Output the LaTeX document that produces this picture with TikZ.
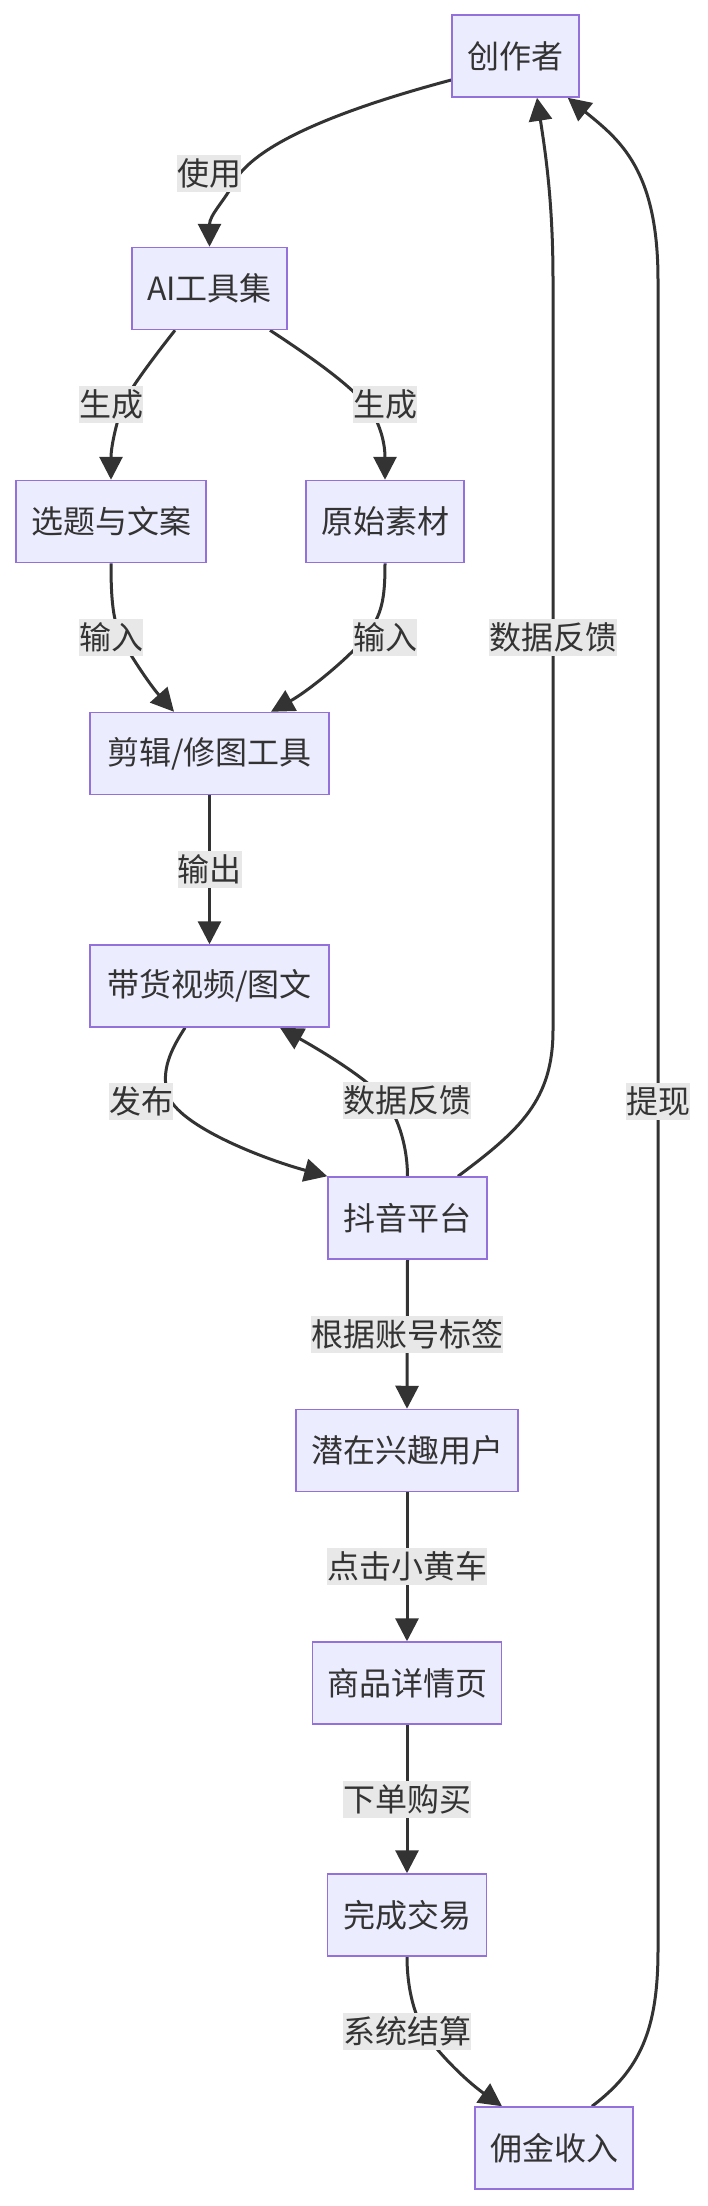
\documentclass[tikz,border=0pt]{standalone}
\usepackage{fontspec}
\newfontfamily\cjk{Noto Sans CJK SC}
\usetikzlibrary{arrows.meta}
\pgfdeclarelayer{back}
\pgfdeclarelayer{bg}
\pgfsetlayers{back,bg,main}
\definecolor{nodefill}{HTML}{ECECFF}
\definecolor{nodeline}{HTML}{9370DB}
\definecolor{ink}{HTML}{333333}
\definecolor{lblbg}{HTML}{E8E8E8}
\begin{document}
\begin{tikzpicture}[x=1pt,y=1pt,
  box/.style={draw=nodeline, line width=1.5pt, fill=nodefill, text=ink,
    minimum height=82pt, inner xsep=0pt, inner ysep=0pt,
    font=\cjk\fontsize{32}{38}\selectfont},
  lbl/.style={fill=lblbg, text=ink, inner sep=0pt, minimum height=37pt,
    font=\cjk\fontsize{32}{38}\selectfont},
  edge/.style={draw=ink, line width=3pt},
  arr/.style={edge, -{Triangle[length=23pt,width=23pt]}}]
\begin{pgfonlayer}{back}
\fill[white] (0,0) rectangle (708,-2206);
\end{pgfonlayer}
\useasboundingbox (0,0) rectangle (708,-2206);

% nodes
\node[box, minimum width=127pt] (C)  at (515.5,-56)   {创作者};
\node[box, minimum width=155pt] (AI) at (209.5,-288.5) {AI工具集};
\node[box, minimum width=190pt] (T)  at (111,-521.5)   {选题与文案};
\node[box, minimum width=158pt] (M)  at (385,-521.5)   {原始素材};
\node[box, minimum width=239pt] (E)  at (209.5,-753.5) {剪辑/修图工具};
\node[box, minimum width=239pt] (V)  at (209.5,-986)   {带货视频/图文};
\node[box, minimum width=159pt] (D)  at (407.5,-1218)  {抖音平台};
\node[box, minimum width=222pt] (U)  at (407,-1450.5)  {潜在兴趣用户};
\node[box, minimum width=189pt] (P)  at (407,-1683)    {商品详情页};
\node[box, minimum width=159pt] (F)  at (407,-1915)    {完成交易};
\node[box, minimum width=158pt] (Y)  at (554,-2148)    {佣金收入};

% edge labels
\node[lbl] (L1)  at (209,-173)    {使用};
\node[lbl] (L2)  at (111,-404.5)  {生成};
\node[lbl] (L3)  at (385,-404.5)  {生成};
\node[lbl] (L4)  at (111,-637.5)  {输入};
\node[lbl] (L5)  at (385,-637.5)  {输入};
\node[lbl] (L6)  at (209.5,-869) {输出};
\node[lbl] (L7)  at (141,-1101)   {发布};
\node[lbl] (L8)  at (407,-1100.5) {数据反馈};
\node[lbl] (L9)  at (553,-637.5)  {数据反馈};
\node[lbl] (L10) at (407,-1334)   {根据账号标签};
\node[lbl] (L11) at (407,-1566.5) {点击小黄车};
\node[lbl] (L12) at (407,-1799)   {下单购买};
\node[lbl] (L13) at (407,-2031)   {系统结算};
\node[lbl] (L14) at (658,-1101.5) {提现};

% connectors
\begin{pgfonlayer}{bg}
\draw[arr] ([yshift=-24pt]C.west) .. controls (320,-115) and (250,-150) .. (233,-184)
  .. controls (225,-200) and (209.5,-215) .. (AI.north);
\draw[arr] ([xshift=-34.5pt]AI.south) .. controls (150,-362) and (128,-392) .. (123,-404.5)
  .. controls (118,-417) and (111,-445) .. (T.north);
\draw[arr] ([xshift=60.5pt]AI.south) .. controls (300,-350) and (345,-380) .. (366,-404.5)
  .. controls (378,-418) and (385,-440) .. (M.north);
\draw[arr] (T.south) .. controls (111,-600) and (113,-620) .. (121,-637.5)
  .. controls (128,-652) and (150,-685) .. ([xshift=-35.5pt]E.north);
\draw[arr] (M.south) .. controls (385,-600) and (382,-615) .. (365,-637.5)
  .. controls (352,-655) and (310,-690) .. ([xshift=61.5pt]E.north);
\draw[arr] (E.south) -- (V.north);
\draw[arr] ([xshift=-24.5pt]V.south) .. controls (172,-1048) and (160,-1070) .. (168,-1095)
  .. controls (178,-1125) and (260,-1158) .. (D.north west);
\draw[arr] (D.north) .. controls (407.5,-1150) and (400,-1120) .. (385,-1100)
  .. controls (370,-1080) and (320,-1050) .. ([xshift=70.5pt]V.south);
\draw[arr] ([xshift=50.5pt]D.north) .. controls (520,-1130) and (553,-1100) .. (553,-1030)
  -- (553,-280) .. controls (553,-200) and (545,-150) .. ([xshift=21.5pt]C.south);
\draw[arr] (D.south) -- (U.north);
\draw[arr] (U.south) -- (P.north);
\draw[arr] (P.south) -- (F.north);
\draw[arr] (F.south) .. controls (407,-1985) and (413,-2012) .. (424,-2031)
  .. controls (435,-2050) and (465,-2080) .. ([xshift=-52pt]Y.north);
\draw[arr] ([xshift=38pt]Y.north) .. controls (640,-2070) and (658,-2030) .. (658,-1950)
  -- (658,-280) .. controls (658,-170) and (620,-140) .. ([xshift=-12pt]C.south east);
\end{pgfonlayer}
\end{tikzpicture}
\end{document}
